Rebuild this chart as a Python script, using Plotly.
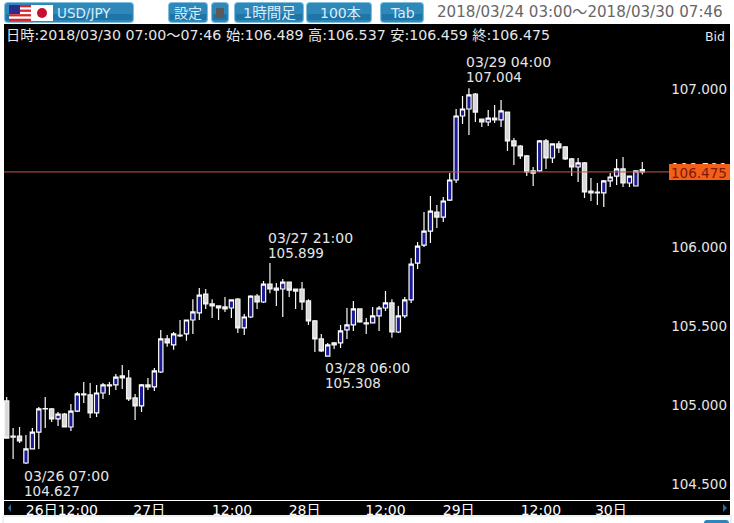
import plotly.graph_objects as go

open_ = [105.026,104.804,104.804,104.633,104.722,104.829,104.975,104.975,104.912,104.943,
         104.861,104.962,105.070,105.064,104.950,105.076,105.127,105.127,105.184,105.171,
         105.045,104.994,105.127,105.115,105.209,105.418,105.380,105.443,105.450,105.538,
         105.583,105.702,105.640,105.627,105.621,105.614,105.670,105.488,105.557,105.689,
         105.652,105.765,105.740,105.734,105.778,105.734,105.734,105.659,105.532,105.418,
         105.310,105.393,105.393,105.475,105.507,105.608,105.520,105.520,105.564,105.614,
         105.646,105.462,105.564,105.665,105.898,106.012,106.101,106.221,106.189,106.297,
         106.424,106.829,106.873,106.968,106.810,106.791,106.816,106.804,106.854,106.671,
         106.639,106.576,106.481,106.481,106.671,106.563,106.652,106.633,106.557,106.506,
         106.532,106.354,106.348,106.342,106.418,106.449,106.494,106.405,106.386,106.489]
high = [105.051,104.854,104.861,104.810,104.854,104.988,105.051,104.981,104.956,104.950,
        105.007,105.083,105.146,105.140,105.127,105.140,105.146,105.196,105.254,105.222,
        105.070,105.133,105.171,105.234,105.475,105.443,105.462,105.538,105.540,105.670,
        105.740,105.734,105.670,105.630,105.683,105.670,105.677,105.576,105.695,105.702,
        105.784,105.899,105.772,105.797,105.780,105.736,105.778,105.670,105.538,105.450,
        105.393,105.399,105.507,105.614,105.659,105.610,105.551,105.621,105.627,105.721,
        105.670,105.627,105.683,105.930,106.031,106.221,106.322,106.265,106.316,106.468,
        106.873,106.956,107.004,106.975,106.812,106.867,106.899,106.930,106.856,106.690,
        106.646,106.582,106.506,106.677,106.684,106.654,106.671,106.639,106.563,106.563,
        106.538,106.437,106.405,106.424,106.468,106.557,106.570,106.451,106.483,106.537]
low = [104.790,104.659,104.760,104.627,104.720,104.722,104.854,104.893,104.867,104.859,
       104.836,104.956,105.013,104.918,104.924,105.038,105.064,105.095,105.101,105.026,
       104.905,104.956,105.095,105.089,105.203,105.368,105.349,105.431,105.406,105.450,
       105.538,105.608,105.551,105.538,105.589,105.551,105.456,105.443,105.551,105.608,
       105.646,105.708,105.627,105.557,105.683,105.608,105.602,105.507,105.336,105.336,
       105.308,105.355,105.361,105.418,105.469,105.520,105.450,105.518,105.469,105.595,
       105.425,105.456,105.551,105.646,105.860,106.000,106.025,106.120,106.158,106.291,
       106.405,106.778,106.709,106.791,106.759,106.766,106.785,106.759,106.608,106.519,
       106.557,106.449,106.386,106.475,106.494,106.532,106.595,106.551,106.449,106.411,
       106.310,106.291,106.265,106.253,106.380,106.392,106.380,106.380,106.384,106.459]
close = [104.791,104.797,104.773,104.722,104.829,104.975,104.978,104.912,104.943,104.861,
         104.962,105.070,105.064,104.950,105.076,105.127,105.121,105.177,105.171,105.038,
         104.994,105.127,105.115,105.216,105.418,105.393,105.450,105.437,105.538,105.589,
         105.695,105.640,105.627,105.614,105.608,105.665,105.488,105.557,105.689,105.652,
         105.765,105.734,105.727,105.778,105.727,105.721,105.652,105.532,105.418,105.342,
         105.380,105.380,105.469,105.507,105.608,105.526,105.513,105.564,105.614,105.646,
         105.462,105.564,105.665,105.892,106.006,106.101,106.227,106.189,106.291,106.424,
         106.829,106.873,106.962,106.854,106.791,106.816,106.804,106.861,106.671,106.639,
         106.576,106.475,106.468,106.671,106.563,106.652,106.627,106.557,106.506,106.532,
         106.348,106.342,106.342,106.418,106.443,106.494,106.405,106.449,106.481,106.475]
bars = list(range(len(open_)))

price_ticks = [104.5, 105.0, 105.5, 106.0, 106.5, 107.0]
price_labels = ["104.500", "105.000", "105.500", "106.000", "106.500", "107.000"]
time_ticks = [8.6, 22.2, 35.1, 46.4, 59.0, 70.4, 83.2, 94.1]
time_labels = ["26日12:00", "27日", "12:00", "28日", "12:00", "29日", "12:00", "30日"]
last_price = 106.475
callouts = [(3, 104.627, "03/26 07:00", "104.627"),
            (41, 105.899, "03/27 21:00", "105.899"),
            (50, 105.308, "03/28 06:00", "105.308"),
            (72, 107.004, "03/29 04:00", "107.004")]
callout_px = [(24, 476), (268, 238), (325, 368), (466, 62)]
header = "日時:2018/03/30 07:00～07:46 始:106.489 高:106.537 安:106.459 終:106.475"
period = "2018/03/24 03:00～2018/03/30 07:46"

FONT = "DejaVu Sans, Noto Sans CJK JP"
L, R, T, B = 4, 730, 24, 500
W, H = 734, 523


def px(x):
    return (x - L) / (R - L)


def py(y):
    return (B - y) / (B - T)


def rect(x0, y0, x1, y1, color, line=None, layer="above"):
    return dict(type="rect", xref="paper", yref="paper", x0=px(x0), x1=px(x1), y0=py(y0), y1=py(y1),
                fillcolor=color, line=dict(width=1 if line else 0, color=line or color), layer=layer)


def rounded(x0, y0, x1, y1, r, color):
    a, b, c, d = px(x0), px(x1), py(y0), py(y1)
    rx, ry = r / (R - L), r / (B - T)
    p = (f"M{a+rx},{c} L{b-rx},{c} Q{b},{c} {b},{c-ry} L{b},{d+ry} Q{b},{d} {b-rx},{d} "
         f"L{a+rx},{d} Q{a},{d} {a},{d+ry} L{a},{c-ry} Q{a},{c} {a+rx},{c} Z")
    return dict(type="path", xref="paper", yref="paper", path=p, fillcolor=color, line=dict(width=0), layer="above")


def tri(points, color):
    p = "M" + " L".join(f"{px(x)},{py(y)}" for x, y in points) + " Z"
    return dict(type="path", xref="paper", yref="paper", path=p, fillcolor=color, line=dict(width=0), layer="above")


def text(x, y, s, size=13.5, color="#e6e6e6", anchor="left"):
    return dict(xref="paper", yref="paper", x=px(x), y=py(y), text=s, showarrow=False, xanchor=anchor,
                yanchor="middle", font=dict(family=FONT, size=size, color=color), borderpad=0, borderwidth=0)


fig = go.Figure(go.Candlestick(
    x=bars, open=open_, high=high, low=low, close=close,
    increasing=dict(fillcolor="#1a1a96", line=dict(color="#ffffff", width=1.2)),
    decreasing=dict(fillcolor="#d8d8d8", line=dict(color="#f4f4f4", width=1.2)),
    hoverinfo="skip", showlegend=False))

shapes = []
shapes.append(dict(type="line", xref="paper", yref="y", x0=0, x1=px(669), y0=last_price, y1=last_price,
                   line=dict(color="#c8553c", width=1), layer="above"))
shapes.append(rect(669, 164, 730, 180, "#f4601a"))
shapes.append(rect(L, 501, R, 515, "#000000", layer="below"))
shapes.append(rect(L, 500, R, 501, "#ffffff"))
shapes.append(tri([(11, 504), (11, 512), (8, 508)], "#2a6f9e"))
shapes.append(tri([(723, 504), (723, 512), (727, 508)], "#2a6f9e"))
shapes.append(rect(3, 516, 731, 524, "#ffffff", "#d5e3ea"))
shapes.append(rounded(704, 520, 729, 530, 3, "#2e86b8"))
for x0, x1 in [(4, 134), (168, 208), (211, 229), (234, 304), (306, 372), (380, 424)]:
    shapes.append(rounded(x0, 2, x1, 23, 4, "#7fbfdd"))
    shapes.append(rounded(x0 + 1, 3, x1 - 1, 22, 3, "#2f88ba"))
    shapes.append(rect(x0 + 2, 14, x1 - 2, 20, "#1f74a8"))
shapes.append(rect(9, 5, 31, 21, "#ffffff"))
for i in range(0, 7, 2):
    shapes.append(rect(9, 5 + i * 16 / 7, 31, 5 + (i + 1) * 16 / 7, "#d8262c"))
shapes.append(rect(9, 5, 20, 14, "#2a2f8f"))
shapes.append(rect(31, 5, 53, 21, "#ffffff"))
shapes.append(dict(type="circle", xref="paper", yref="paper", x0=px(37), x1=px(47), y0=py(18), y1=py(8),
                   fillcolor="#c8102e", line=dict(width=0), layer="above"))
shapes.append(rounded(216, 8, 224, 18, 1, "#5a5a5a"))

ann = [text(6, 35, header, 14.2),
       text(725, 36, "Bid", 12.5, "#e6e6e6", "right"),
       text(727, 172.5, f"{last_price:.3f}", 13.5, "#7a1a08", "right"),
       text(57, 13, "USD/JPY", 13.5, "#d8eef9"),
       text(188, 13, "設定", 14, "#d8eef9", "center"),
       text(269, 13, "1時間足", 14.5, "#d8eef9", "center"),
       text(340, 13, "100本", 14, "#d8eef9", "center"),
       text(402, 13, "Tab", 14, "#d8eef9", "center"),
       text(437, 12, period, 15.1, "#666666")]
for (_, _, t, v), (x, y) in zip(callouts, callout_px):
    ann.append(text(x, y, t, 14))
    ann.append(text(x, y + 15, v))

fig.update_layout(
    width=W, height=H, autosize=False,
    margin=dict(l=L, r=W - R, t=T, b=H - B, pad=0),
    paper_bgcolor="#ffffff", plot_bgcolor="#000000",
    showlegend=False, boxgap=0.05,
    shapes=shapes, annotations=ann,
    xaxis=dict(range=[-0.42, 112.66], rangeslider=dict(visible=False), showgrid=False, zeroline=False,
               tickmode="array", tickvals=time_ticks, ticktext=time_labels, ticks="", ticklen=0,
               tickfont=dict(family=FONT, size=14, color="#ffffff"), showline=False),
    yaxis=dict(range=[104.399, 107.411], side="right", showgrid=False, zeroline=False,
               tickmode="array", tickvals=price_ticks, ticktext=price_labels, ticks="",
               ticklabelposition="inside", tickfont=dict(family=FONT, size=13.5, color="#e6e6e6"), showline=False),
)
fig.write_html("out.html", config=dict(displayModeBar=False),
               post_script="document.body.style.margin='0';document.body.style.overflow='hidden';")
